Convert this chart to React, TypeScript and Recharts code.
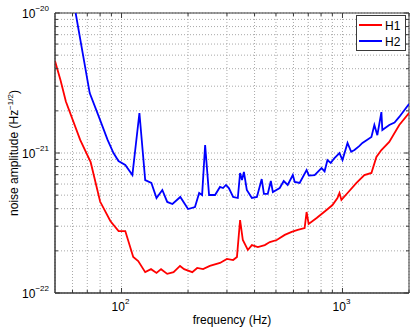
import React from 'react';
import { LineChart, Line, XAxis, YAxis, CartesianGrid, Legend, ReferenceArea } from 'recharts';

// Amplitudes are in units of 1e-22 Hz^-1/2
const h1Freq = [50, 53, 56, 65, 72.5, 80, 89, 97, 104, 113, 119, 128, 136, 144, 151, 161, 172, 184, 192, 209, 220, 234, 251, 279, 300, 320, 333, 344, 354, 373, 389, 414, 445, 469, 504, 548, 589, 627, 674, 688, 703, 764, 847, 901, 949, 969, 989, 1054, 1157, 1256, 1352, 1424, 1500, 1628, 1807, 2000];
const h1Amp = [45.5, 33, 23.3, 12.4, 8.6, 4.5, 3.27, 2.77, 2.77, 1.81, 1.69, 1.41, 1.48, 1.39, 1.48, 1.37, 1.41, 1.56, 1.48, 1.41, 1.51, 1.48, 1.56, 1.64, 1.75, 1.72, 1.81, 3.32, 2.39, 2.03, 2.2, 2.13, 2.2, 2.31, 2.39, 2.6, 2.73, 2.82, 2.91, 3.79, 3.11, 3.43, 3.92, 4.25, 4.77, 5.18, 4.62, 5.18, 6.11, 6.96, 7.2, 9.36, 10.5, 12.0, 15.85, 19.3];

const h2Freq = [62, 71.8, 78.7, 86.5, 92, 96.9, 104, 112, 120.5, 128, 136.5, 144, 153, 161, 170, 184.5, 200, 215, 224.6, 231.6, 239, 249, 265, 279, 288, 297, 306, 320, 336, 344, 351, 358, 369, 389, 410, 431, 441, 459, 474, 484, 520, 542, 565, 596, 608, 640, 688, 705, 748, 804, 830, 855, 885, 920, 969, 1000, 1054, 1095, 1133, 1190, 1231, 1290, 1352, 1394, 1438, 1500, 1515, 1628, 1720, 1807, 2000];
const h2Amp = [100, 26.8, 18.4, 12.4, 10, 8.77, 8.21, 6.96, 19.3, 6.41, 6.11, 4.77, 5.44, 4.47, 4.32, 4.85, 3.98, 4.11, 5.18, 5.01, 11.4, 5.01, 5.01, 5.72, 5.62, 5.91, 5.62, 4.85, 4.77, 7.2, 6.41, 7.32, 5.44, 4.77, 4.85, 6.51, 5.1, 5.1, 6.31, 5.26, 5.62, 6.31, 5.91, 6.96, 6.21, 6.11, 7.56, 6.9, 6.96, 7.81, 7.4, 8.91, 8.5, 9.21, 10, 8.91, 11.8, 10.2, 10.5, 11.2, 11.8, 12.4, 13.0, 15.85, 13.4, 19.6, 14.6, 15.85, 16.5, 18.1, 22.4];

const xTicks = [60, 70, 80, 90, 100, 200, 300, 400, 500, 600, 700, 800, 900, 1000, 2000];
const xMajor = [100, 1000];
const xMajorLabels = ['2', '3'];

const yTicks = [1, 2, 3, 4, 5, 6, 7, 8, 9, 10, 20, 30, 40, 50, 60, 70, 80, 90, 100];
const yMajor = [1, 10, 100];
const yMajorLabels = ['\u221222', '\u221221', '\u221220'];

const seriesNames = ['H1', 'H2'];
const seriesColors = ['#ff0000', '#0000ff'];

const h1Data = h1Freq.map((f, i) => ({ f, a: h1Amp[i] }));
const h2Data = h2Freq.map((f, i) => ({ f, a: h2Amp[i] }));

const AXIS = '#3a3a3a';
const PLOT_H = 280;
const PLOT_W = 354;
const FONT = '"Liberation Sans", Arial, Helvetica, sans-serif';

const XTick = (props: any) => {
  const { x, y, payload } = props;
  const idx = xMajor.indexOf(payload.value);
  const len = idx >= 0 ? 5 : 3;
  return (
    <g>
      <line x1={x} x2={x} y1={y} y2={y - len} stroke={AXIS} strokeWidth={1} />
      <line x1={x} x2={x} y1={y - PLOT_H} y2={y - PLOT_H + len} stroke={AXIS} strokeWidth={1} />
      {idx >= 0 && (
        <text x={x - 1} y={y + 18} textAnchor="middle" fontSize={12} fill="#000" fontFamily={FONT}>
          10<tspan dy={-7} fontSize={8}>{xMajorLabels[idx]}</tspan>
        </text>
      )}
    </g>
  );
};

const YTick = (props: any) => {
  const { x, y, payload } = props;
  const idx = yMajor.indexOf(payload.value);
  const len = idx >= 0 ? 5 : 3;
  return (
    <g>
      <line x1={x} x2={x + len} y1={y} y2={y} stroke={AXIS} strokeWidth={1} />
      <line x1={x + PLOT_W} x2={x + PLOT_W - len} y1={y} y2={y} stroke={AXIS} strokeWidth={1} />
      {idx >= 0 && (
        <text x={x - 6} y={y + 5} textAnchor="end" fontSize={12} fill="#000" fontFamily={FONT}>
          10<tspan dy={-7} fontSize={8}>{yMajorLabels[idx]}</tspan>
        </text>
      )}
    </g>
  );
};

const XTitle = () => (
  <text x={232} y={324} textAnchor="middle" fontSize={12} fill="#000" fontFamily={FONT}>
    frequency (Hz)
  </text>
);

const YTitle = () => (
  <text transform="translate(18,153) rotate(-90)" textAnchor="middle" fontSize={12} fill="#000" fontFamily={FONT}>
    noise amplitude (Hz<tspan dy={-5} fontSize={8}>{'\u22121/2'}</tspan>
    <tspan dy={5}>)</tspan>
  </text>
);

const LegendBox = () => (
  <svg width={50} height={36} style={{ display: 'block' }}>
    <rect x={0.5} y={0.5} width={49} height={35} fill="#fff" stroke={AXIS} strokeWidth={1} />
    {seriesNames.map((n, i) => (
      <g key={n}>
        <line x1={3} x2={26} y1={10 + i * 16} y2={10 + i * 16} stroke={seriesColors[i]} strokeWidth={2} />
        <text x={29} y={14.5 + i * 16} fontSize={12} fill="#000" fontFamily={FONT}>{n}</text>
      </g>
    ))}
  </svg>
);

export default function App() {
  return (
    <div style={{ position: 'absolute', left: 0, top: 0, width: 415, height: 329, background: '#fff', fontFamily: FONT }}>
      <LineChart width={415} height={329} margin={{ top: 13, right: 6, bottom: 0, left: 0 }}>
        <CartesianGrid stroke="#a8a8a8" strokeDasharray="1 2" strokeWidth={1} />
        <XAxis
          dataKey="f"
          type="number"
          scale="log"
          domain={[50, 2000]}
          allowDataOverflow
          ticks={xTicks}
          interval={0}
          tick={<XTick />}
          tickLine={false}
          tickSize={0}
          tickMargin={0}
          height={36}
          axisLine={{ stroke: AXIS }}
          label={{ content: XTitle }}
        />
        <YAxis
          type="number"
          scale="log"
          domain={[1, 100]}
          allowDataOverflow
          ticks={yTicks}
          interval={0}
          tick={<YTick />}
          tickLine={false}
          tickSize={0}
          tickMargin={0}
          width={55}
          axisLine={{ stroke: AXIS }}
          label={{ content: YTitle }}
        />
        <ReferenceArea x1={50} x2={2000} y1={1} y2={100} fill="none" stroke={AXIS} strokeWidth={1} />
        <Line data={h1Data} dataKey="a" name={seriesNames[0]} type="linear" stroke={seriesColors[0]} strokeWidth={1.8} dot={false} isAnimationActive={false} />
        <Line data={h2Data} dataKey="a" name={seriesNames[1]} type="linear" stroke={seriesColors[1]} strokeWidth={1.8} dot={false} isAnimationActive={false} />
        <Legend
          layout="horizontal"
          verticalAlign="middle"
          align="center"
          wrapperStyle={{ position: 'absolute', left: 356, top: 15, width: 50, height: 36 }}
          content={LegendBox}
        />
      </LineChart>
    </div>
  );
}
